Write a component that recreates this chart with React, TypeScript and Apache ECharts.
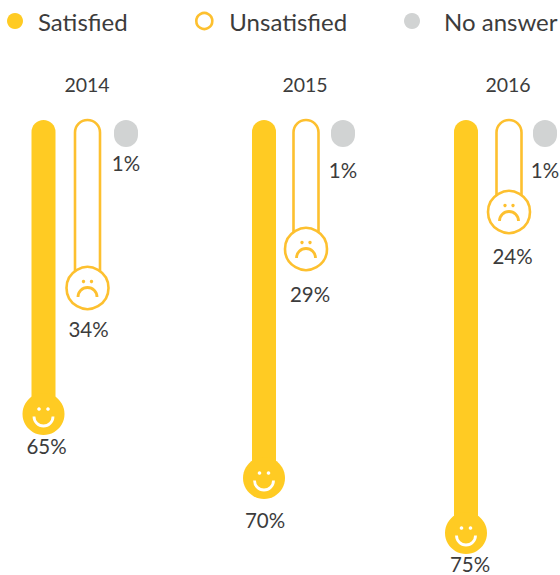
import React, { useEffect, useRef } from "react";
import * as echarts from "echarts";

const years = ["2014", "2015", "2016"];
const measures = ["Satisfied", "Unsatisfied", "No answer"];
const satisfied = [65, 70, 75];
const unsatisfied = [34, 29, 24];
const noAnswer = [1, 1, 1];

const YELLOW = "#FFCB23";
const STROKE = "#FDC02F";
const GREY = "#D1D3D3";
const TEXT = "#3c3c3c";
const FONT = "Lato";
const WEIGHT = 400;
const GRID_TOP = 120;
const GRID_H = 440;

// Layout per year: the source graphic is not on one common scale, so each bar has its own axis.
const gridLeft = [21.5, 241, 444];
const titleX = [82, 300, 503];
const barLen = [
  [294, 168, 27],
  [358, 129, 27],
  [413, 92, 27],
];
const labelGap = [
  [32, 41, 16],
  [42, 45, 23],
  [31, 44, 23],
];
const labelDx = [
  [3, 1, 0],
  [1, 4, 0],
  [4, 3.5, 0],
];
const nudgeX = [
  [0, 0, -5.5],
  [1, -1, -8],
  [0, -1, -9],
];

const valuesByMeasure = [satisfied, unsatisfied, noAnswer];

function makeRender(yearIdx: number, m: number) {
  return (_p: any, api: any) => {
    const cat = api.value(0);
    const val = api.value(1);
    const top = api.coord([cat, 0]);
    const end = api.coord([cat, val]);
    const x = end[0] + nudgeX[yearIdx][m];
    const y0 = top[1];
    const y1 = end[1];
    const label = {
      type: "text",
      style: {
        text: val + "%",
        x: x + labelDx[yearIdx][m],
        y: y1 + labelGap[yearIdx][m],
        textAlign: "center",
        textVerticalAlign: "middle",
        fontFamily: FONT,
        fontWeight: WEIGHT,
        fontSize: 20.5,
        fill: TEXT,
      },
    };
    if (m === 2) {
      return {
        type: "group",
        children: [
          {
            type: "rect",
            shape: { x: x - 12, y: y0, width: 24, height: y1 - y0, r: 12 },
            style: { fill: GREY },
          },
          label,
        ],
      };
    }
    if (m === 0) {
      return {
        type: "group",
        children: [
          {
            type: "rect",
            shape: { x: x - 12, y: y0, width: 24, height: y1 - y0, r: [12, 12, 0, 0] },
            style: { fill: YELLOW },
          },
          { type: "circle", shape: { cx: x, cy: y1, r: 21 }, style: { fill: YELLOW } },
          { type: "circle", shape: { cx: x - 4.5, cy: y1 - 5, r: 1.8 }, style: { fill: "#fff" } },
          { type: "circle", shape: { cx: x + 4.5, cy: y1 - 5, r: 1.8 }, style: { fill: "#fff" } },
          {
            type: "arc",
            shape: { cx: x, cy: y1 + 2.5, r: 9.5, startAngle: 0, endAngle: Math.PI, clockwise: true },
            style: { stroke: "#fff", lineWidth: 2.8, fill: "none" },
          },
          label,
        ],
      };
    }
    return {
      type: "group",
      children: [
        {
          type: "rect",
          shape: { x: x - 12.5, y: y0, width: 25, height: y1 - y0, r: [12.5, 12.5, 0, 0] },
          style: { fill: "#fff", stroke: STROKE, lineWidth: 2.6 },
        },
        {
          type: "circle",
          shape: { cx: x, cy: y1, r: 21 },
          style: { fill: "#fff", stroke: STROKE, lineWidth: 2.6 },
        },
        { type: "circle", shape: { cx: x - 4, cy: y1 - 6.5, r: 1.7 }, style: { fill: STROKE } },
        { type: "circle", shape: { cx: x + 4, cy: y1 - 6.5, r: 1.7 }, style: { fill: STROKE } },
        {
          type: "arc",
          shape: { cx: x, cy: y1 + 9, r: 9.5, startAngle: Math.PI, endAngle: Math.PI * 2, clockwise: true },
          style: { stroke: STROKE, lineWidth: 2.8, fill: "none" },
        },
        label,
      ],
    };
  };
}

const legendPos = [
  { left: 2, pad: 10 },
  { left: 190, pad: 12 },
  { left: 399, pad: 19 },
];

export default function App() {
  const ref = useRef<HTMLDivElement>(null);
  useEffect(() => {
    document.body.style.margin = "0";
    const chart = echarts.init(ref.current!, undefined, { renderer: "svg" });
    const grids: any[] = [];
    const xAxes: any[] = [];
    const yAxes: any[] = [];
    const series: any[] = [];
    years.forEach((_, yi) => {
      grids.push({
        left: gridLeft[yi],
        top: GRID_TOP,
        width: 132,
        height: GRID_H,
        outerBoundsMode: "none",
      });
      xAxes.push({ type: "category", gridIndex: yi, data: measures, show: false });
      measures.forEach((name, m) => {
        const value = valuesByMeasure[m][yi];
        yAxes.push({
          type: "value",
          gridIndex: yi,
          inverse: true,
          show: false,
          min: 0,
          max: (value * GRID_H) / barLen[yi][m],
          splitLine: { show: false },
        });
        series.push({
          type: "custom",
          name,
          xAxisIndex: yi,
          yAxisIndex: yAxes.length - 1,
          clip: false,
          silent: true,
          itemStyle:
            m === 1
              ? { color: "#fff", borderColor: STROKE, borderWidth: 2.5 }
              : { color: m === 0 ? YELLOW : GREY },
          data: [[m, value]],
          renderItem: makeRender(yi, m),
        });
      });
    });
    chart.setOption({
      animation: false,
      backgroundColor: "#fff",
      title: years.map((y, i) => ({
        text: y,
        left: titleX[i],
        top: 69,
        textAlign: "center",
        textStyle: { fontFamily: FONT, fontWeight: WEIGHT, fontSize: 19.5, color: TEXT },
      })),
      legend: measures.map((name, i) => ({
        data: [name],
        left: legendPos[i].left,
        top: 4,
        itemWidth: 16,
        itemHeight: 16,
        icon: "circle",
        selectedMode: false,
        itemStyle:
          i === 1
            ? { color: "#fff", borderColor: STROKE, borderWidth: 2.6 }
            : { color: i === 0 ? YELLOW : GREY },
        textStyle: {
          fontFamily: FONT,
          fontWeight: WEIGHT,
          fontSize: 24,
          color: TEXT,
          padding: [0, 0, 0, legendPos[i].pad],
        },
      })),
      grid: grids,
      xAxis: xAxes,
      yAxis: yAxes,
      series,
    });
    return () => chart.dispose();
  }, []);
  return <div ref={ref} style={{ position: "fixed", left: 0, top: 0, width: 560, height: 575 }} />;
}
